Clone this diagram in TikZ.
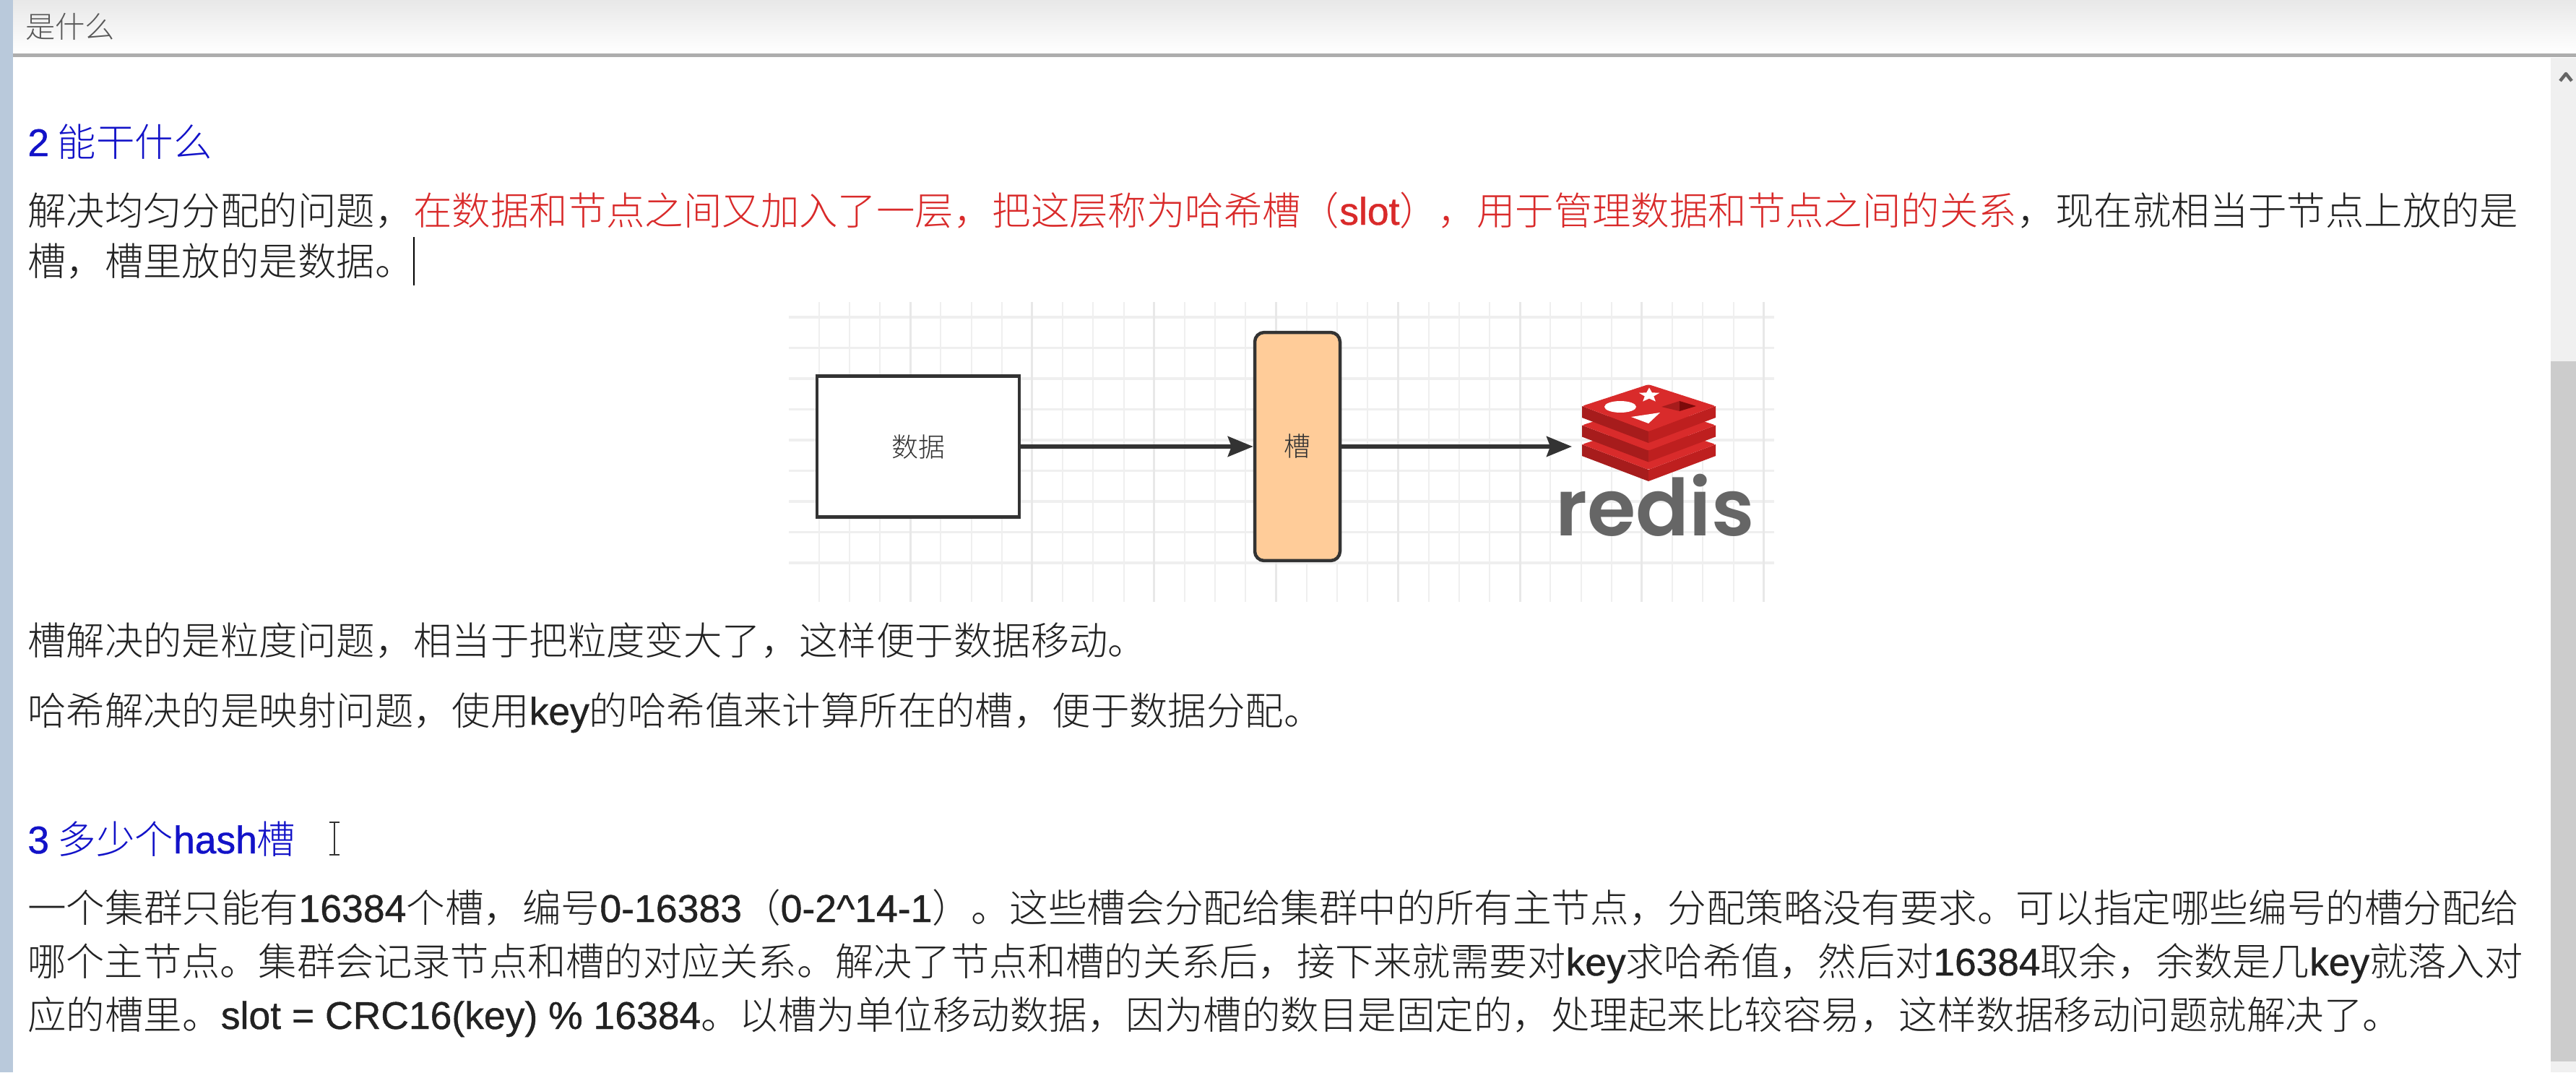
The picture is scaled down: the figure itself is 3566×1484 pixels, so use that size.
\documentclass[tikz,border=0pt]{standalone}
\usepackage{fontspec}
\setmainfont{Noto Sans CJK SC Light}
\newfontfamily\latfont[FakeBold=0.8]{Liberation Sans}
\newfontfamily\logofont{Poppins SemiBold}
\usepackage{tikz}
\usetikzlibrary{positioning, arrows.meta, shapes.geometric}
\definecolor{bodyink}{HTML}{222222}
\definecolor{headblue}{HTML}{1212C8}
\definecolor{notered}{HTML}{D92A2A}
\definecolor{gridline}{HTML}{EFEFEF}
\definecolor{gridbold}{HTML}{E8E8E8}
\definecolor{slotfill}{HTML}{FFCC99}
\definecolor{flowink}{HTML}{333333}
\definecolor{stripblue}{HTML}{B9C9DB}
\definecolor{redistop}{HTML}{D92B2B}
\definecolor{redisleft}{HTML}{A71C1C}
\definecolor{redisright}{HTML}{BE1F1F}
\definecolor{redisdark}{HTML}{7C0A0A}
\newcommand{\lat}[1]{{\latfont #1}}
\newcommand{\redis}[1]{\textcolor{notered}{#1}}
\begin{document}
\begin{tikzpicture}[
        x=0.02cm, y=-0.02cm,
        line/.style={anchor=base west, inner sep=0pt, text=bodyink, font=\fontsize{#1pt}{36pt}\selectfont},
        line/.default=30.4,
        heading/.style={line, text=headblue},
        tabtitle/.style={line, text=black!65, font=\fontsize{23.5pt}{28pt}\selectfont},
        databox/.style={rectangle, draw=flowink, fill=white, line width=0.09cm, minimum width=5.6cm, minimum height=3.9cm, text=flowink, font=\fontsize{21pt}{25pt}\selectfont},
        slotbox/.style={databox, fill=slotfill, rounded corners=0.26cm, minimum width=2.36cm, minimum height=6.32cm},
        flow/.style={draw=flowink, line width=0.11cm, -{Stealth[length=0.7cm, width=0.56cm, inset=0.1cm]}},
        layer/.style={line join=round},
    ]
    \useasboundingbox (0,0) rectangle (3566,1484);
    \fill[white] (0,0) rectangle (3566,1484);

    % Window frame
    \shade[top color=black!9, bottom color=white] (18,0) rectangle (3566,74);
    \fill[black!32] (18,74) rectangle (3566,79);
    \fill[stripblue] (0,0) rectangle (18,1484);
    \fill[black!6] (3531,80) rectangle (3566,1484);
    \fill[black!20] (3531,500) rectangle (3566,1469);
    \draw[black!60, line width=0.09cm, line join=round] (3544,112) -- (3552,102) -- (3560,112);
    \node[tabtitle] (title) at (35,52) {是什么};

    % Text above the drawing
    \node[heading] (headtwo) at (38,216) {\lat{2} 能干什么};
    \node[line] (introa) at (38,311) {解决均匀分配的问题，\redis{在数据和节点之间又加入了一层，把这层称为哈希槽（\lat{slot}），用于管理数据和节点之间的关系}，现在就相当于节点上放的是};
    \node[line] (introb) at (38,381) {槽，槽里放的是数据。};
    \draw[black, line width=0.05cm] (573,328) -- (573,395);

    % Grid behind the drawing
    \foreach \row in {439,481.5,...,820} {
        \draw[gridline, line width=0.07cm] (1092,\row) -- (2456,\row);
    }
    \foreach \col in {0,...,31} {
        \draw[gridline, line width=0.04cm] (1133.5+42.2*\col,418) -- (1133.5+42.2*\col,833);
    }
    \foreach \col in {0,4,...,28} {
        \draw[gridbold, line width=0.06cm] (1133.5+42.2*\col+42.2*3,418) -- (1133.5+42.2*\col+42.2*3,833);
    }

    % Data, slot and redis
    \node[databox] (data) at (1271,618) {数据};
    \node[slotbox] (slot) at (1796,618) {槽};
    \coordinate (logo) at (2176,618);
    \draw[flow] (data) -- (slot);
    \draw[flow] (slot) -- (logo);

    % Logo, bottom layer first
    \foreach \drop in {53,26.5,0} {
        \begin{scope}[yshift=-\drop*0.02cm]
            \fill[redisleft, layer] (2190,562) -- (2282,597) -- (2282,613) -- (2190,578) -- cycle;
            \fill[redisright, layer] (2375,562) -- (2282,597) -- (2282,613) -- (2375,578) -- cycle;
            \fill[redistop, layer, rounded corners=0.06cm] (2282,532) -- (2375,562) -- (2282,597) -- (2190,562) -- cycle;
        \end{scope}
    }
    \fill[white] (2243,563) ellipse (22 and 8);
    \node[star, star points=5, star point ratio=2.3, fill=white, inner sep=0pt, minimum size=0.6cm, yscale=0.7] (logostar) at (2283,547) {};
    \fill[white] (2258,577) -- (2298,571) -- (2282,586) -- cycle;
    \fill[redisleft] (2300,563) -- (2325,555) -- (2325,569) -- cycle;
    \fill[redisdark] (2325,555) -- (2348,562) -- (2325,569) -- cycle;
    \node[inner sep=0pt, anchor=base, text=black!60, font=\logofont\fontsize{62pt}{70pt}\selectfont] (logotext) at (2291,741) {redis};

    % Text below the drawing
    \node[line] (slotnote) at (38,906) {槽解决的是粒度问题，相当于把粒度变大了，这样便于数据移动。};
    \node[line] (hashnote) at (38,1003) {哈希解决的是映射问题，使用\lat{key}的哈希值来计算所在的槽，便于数据分配。};
    \node[heading] (headthree) at (38,1181) {\lat{3} 多少个\lat{hash}槽};
    \draw[black!80, line width=0.05cm] (456,1138) -- (470,1138) (463,1138) -- (463,1183) (456,1183) -- (470,1183);
    \node[line=30.5] (parta) at (38,1276) {一个集群只能有\lat{16384}个槽，编号\lat{0-16383}（\lat{0-2\textasciicircum 14-1}）。这些槽会分配给集群中的所有主节点，分配策略没有要求。可以指定哪些编号的槽分配给};
    \node[line=30.3] (partb) at (38,1350) {哪个主节点。集群会记录节点和槽的对应关系。解决了节点和槽的关系后，接下来就需要对\lat{key}求哈希值，然后对\lat{16384}取余，余数是几\lat{key}就落入对};
    \node[line=30.45] (partc) at (38,1424) {应的槽里。\lat{slot = CRC16(key) \% 16384}。以槽为单位移动数据，因为槽的数目是固定的，处理起来比较容易，这样数据移动问题就解决了。};
\end{tikzpicture}
\end{document}
